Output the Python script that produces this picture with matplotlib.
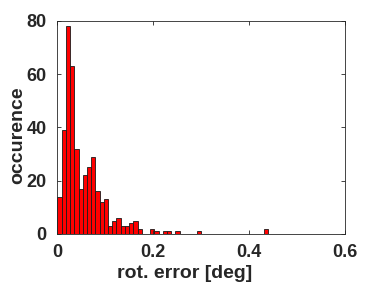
import numpy as np
import matplotlib
matplotlib.use('Agg')
import matplotlib.pyplot as plt

# histogram counts (50 bins between 0 and 0.44 deg)
counts = [14, 39, 78, 63, 32, 17, 22, 25, 29, 16,
          12, 13, 3, 5, 6, 3, 3, 4, 5, 2,
          0, 0, 2, 1, 0, 1, 1, 0, 1, 0,
          0, 0, 0, 1, 0, 0, 0, 0, 0, 0,
          0, 0, 0, 0, 0, 0, 0, 0, 0, 2]
err_min, err_max = 0.0, 0.44
x_ticks = [0, 0.2, 0.4, 0.6]
y_ticks = [0, 20, 40, 60, 80]

edges = np.linspace(err_min, err_max, len(counts) + 1)
centers = (edges[:-1] + edges[1:]) / 2

plt.rcParams['font.family'] = ['Liberation Sans', 'DejaVu Sans']
plt.rcParams['font.weight'] = 'bold'

fig = plt.figure(figsize=(3.82, 2.87), dpi=100)
ax = fig.add_axes([0.1505, 0.185, 0.752, 0.742])

ax.hist(centers, bins=edges, weights=counts, color='#ff0000',
        edgecolor='#1a1a1a', linewidth=0.6)

ax.set_xlim(0, 0.6)
ax.set_ylim(0, 80)
ax.set_xticks(x_ticks)
ax.set_xticklabels(['0', '0.2', '0.4', '0.6'])
ax.set_yticks(y_ticks)
ax.tick_params(direction='in', length=3, width=0.6, labelsize=13,
               top=True, right=True, color='#262626', labelcolor='#262626')
ax.tick_params(axis='x', pad=7)
ax.tick_params(axis='y', pad=8)
for s in ax.spines.values():
    s.set_color('#262626')
    s.set_linewidth(0.6)

ax.set_xlabel('rot. error [deg]', fontsize=14, fontweight='bold', color='#262626')
ax.set_ylabel('occurence', fontsize=14, fontweight='bold', color='#262626')
ax.xaxis.set_label_coords(0.442, -0.148)
ax.yaxis.set_label_coords(-0.11, 0.465)

plt.savefig('out.png', dpi=100)
